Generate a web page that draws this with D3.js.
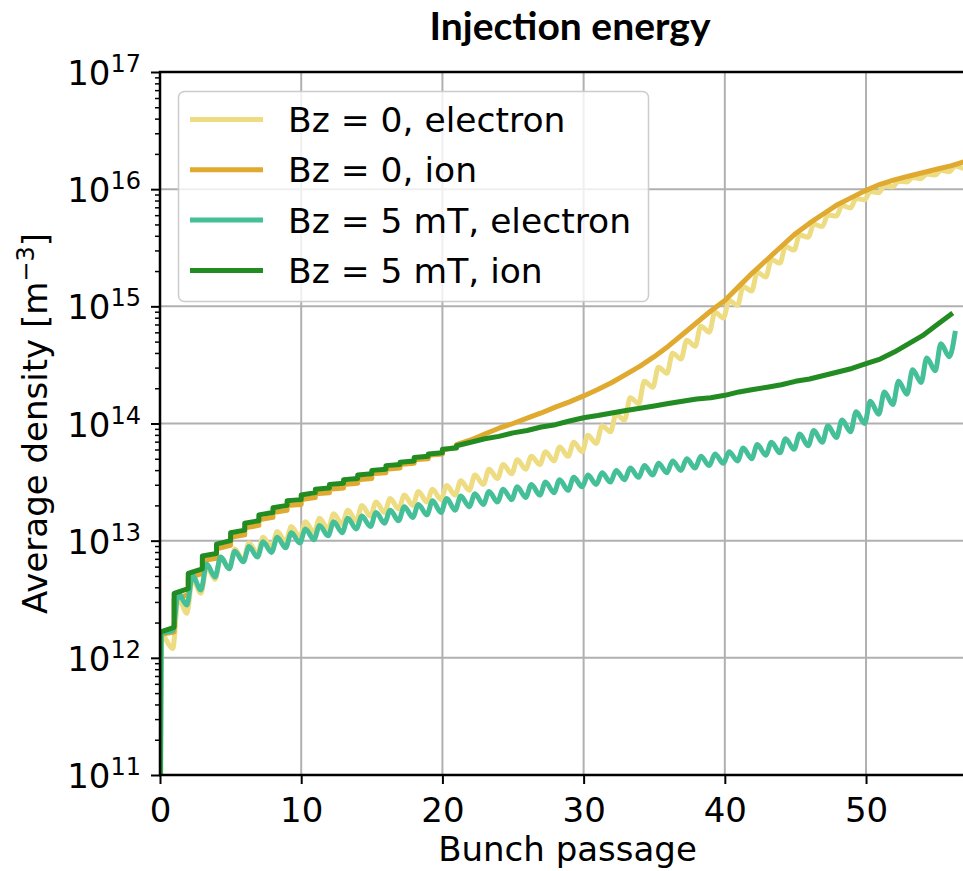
<!DOCTYPE html>
<html>
<head>
<meta charset="utf-8">
<script src="https://cdnjs.cloudflare.com/ajax/libs/d3/7.8.5/d3.min.js"></script>
<style>
  body { margin: 0; background: #fff; }
  text { font-family: "DejaVu Sans", sans-serif; fill: #000; }
</style>
</head>
<body>
<div id="main"></div>
<script>
// ---- data (densities in m^-3, one entry per bunch passage) ----
const xTicks = [0, 10, 20, 30, 40, 50];
const yTicks = [1e11, 1e12, 1e13, 1e14, 1e15, 1e16, 1e17];
const seriesNames = ["Bz = 0, electron", "Bz = 0, ion", "Bz = 5 mT, electron", "Bz = 5 mT, ion"];
const seriesColors = ["#eedc82", "#e0aa30", "#45bf98", "#228b22"];

// electron clouds: value just after each passage (peak) and just before the next one (dip)
const bz0ElectronPeak = [1.58e12, 3.31e12, 4.79e12, 6.03e12, 7.24e12, 8.51e12, 9.55e12, 1.07e13, 1.20e13, 1.32e13,
  1.45e13, 1.55e13, 1.70e13, 1.82e13, 2.00e13, 2.14e13, 2.29e13, 2.45e13, 2.63e13, 2.75e13,
  2.95e13, 3.24e13, 3.63e13, 4.07e13, 4.47e13, 4.90e13, 5.25e13, 5.75e13, 6.31e13, 6.92e13,
  7.94e13, 9.55e13, 1.20e14, 1.66e14, 2.29e14, 3.02e14, 3.98e14, 5.13e14, 6.76e14, 8.91e14,
  1.12e15, 1.48e15, 1.95e15, 2.51e15, 3.24e15, 4.07e15, 5.01e15, 6.03e15, 7.24e15, 8.32e15,
  9.55e15, 1.07e16, 1.17e16, 1.26e16, 1.35e16, 1.45e16, 1.58e16, 1.70e16];
const bz0ElectronDip = [1.20e12, 2.40e12, 3.55e12, 4.68e12, 5.75e12, 6.76e12, 7.76e12, 8.71e12, 9.77e12, 1.07e13,
  1.17e13, 1.26e13, 1.38e13, 1.48e13, 1.62e13, 1.74e13, 1.86e13, 2.00e13, 2.14e13, 2.24e13,
  2.45e13, 2.69e13, 3.02e13, 3.39e13, 3.72e13, 4.07e13, 4.47e13, 4.79e13, 5.25e13, 5.75e13,
  6.76e13, 8.51e13, 1.07e14, 1.48e14, 2.04e14, 2.69e14, 3.55e14, 4.57e14, 6.03e14, 7.94e14,
  1.02e15, 1.35e15, 1.78e15, 2.34e15, 3.02e15, 3.89e15, 4.79e15, 5.89e15, 6.92e15, 8.13e15,
  9.33e15, 1.05e16, 1.15e16, 1.23e16, 1.32e16, 1.41e16, 1.51e16];
const bz5ElectronPeak = [1.62e12, 3.55e12, 5.01e12, 6.31e12, 7.24e12, 8.13e12, 8.91e12, 9.77e12, 1.07e13, 1.17e13,
  1.26e13, 1.35e13, 1.45e13, 1.55e13, 1.62e13, 1.74e13, 1.82e13, 1.95e13, 2.04e13, 2.19e13,
  2.29e13, 2.40e13, 2.51e13, 2.63e13, 2.75e13, 2.88e13, 3.02e13, 3.16e13, 3.31e13, 3.47e13,
  3.63e13, 3.80e13, 3.98e13, 4.17e13, 4.37e13, 4.57e13, 4.79e13, 5.01e13, 5.25e13, 5.50e13,
  5.75e13, 6.17e13, 6.61e13, 6.92e13, 7.41e13, 8.13e13, 8.71e13, 9.55e13, 1.07e14, 1.26e14,
  1.55e14, 1.86e14, 2.29e14, 2.88e14, 3.63e14, 4.79e14, 5.89e14];
const bz5ElectronDip = [1.70e12, 2.82e12, 3.80e12, 4.90e12, 5.75e12, 6.61e12, 7.24e12, 7.94e12, 8.71e12, 9.55e12,
  1.02e13, 1.10e13, 1.17e13, 1.26e13, 1.32e13, 1.41e13, 1.48e13, 1.58e13, 1.66e13, 1.74e13,
  1.82e13, 1.95e13, 2.04e13, 2.14e13, 2.24e13, 2.34e13, 2.45e13, 2.57e13, 2.69e13, 2.88e13,
  3.02e13, 3.16e13, 3.31e13, 3.47e13, 3.63e13, 3.80e13, 3.98e13, 4.17e13, 4.37e13, 4.57e13,
  4.79e13, 5.01e13, 5.37e13, 5.62e13, 6.03e13, 6.46e13, 6.92e13, 7.59e13, 8.51e13, 1.00e14,
  1.20e14, 1.45e14, 1.78e14, 2.24e14, 2.82e14, 3.72e14];

// ions: value right after each passage, and (stepped part only) value just before the next passage
const bz0IonAfter = [1.58e12, 3.16e12, 4.79e12, 6.76e12, 8.51e12, 1.07e13, 1.29e13, 1.51e13, 1.74e13, 2.00e13,
  2.24e13, 2.51e13, 2.75e13, 3.02e13, 3.31e13, 3.72e13, 4.07e13, 4.47e13, 4.90e13, 5.37e13,
  5.89e13, 6.61e13, 7.24e13, 8.13e13, 9.12e13, 1.00e14, 1.11e14, 1.23e14, 1.38e14, 1.53e14,
  1.72e14, 1.95e14, 2.24e14, 2.63e14, 3.09e14, 3.72e14, 4.57e14, 5.75e14, 7.24e14, 9.12e14,
  1.12e15, 1.48e15, 1.95e15, 2.51e15, 3.24e15, 4.17e15, 5.13e15, 6.17e15, 7.41e15, 8.51e15,
  9.77e15, 1.10e16, 1.20e16, 1.29e16, 1.38e16, 1.48e16, 1.58e16, 1.72e16];
const bz0IonBefore = [1.66e12, 3.47e12, 5.25e12, 7.08e12, 9.12e12, 1.12e13, 1.35e13, 1.58e13, 1.82e13, 2.04e13,
  2.34e13, 2.57e13, 2.82e13, 3.09e13, 3.39e13, 3.80e13, 4.17e13, 4.57e13, 5.01e13, 5.50e13, 6.31e13];
const bz5IonAfter = [1.66e12, 3.55e12, 5.25e12, 7.41e12, 9.33e12, 1.17e13, 1.41e13, 1.66e13, 1.91e13, 2.19e13,
  2.45e13, 2.75e13, 3.02e13, 3.31e13, 3.63e13, 3.98e13, 4.37e13, 4.68e13, 5.13e13, 5.50e13,
  6.03e13, 6.46e13, 6.92e13, 7.41e13, 7.76e13, 8.32e13, 8.71e13, 9.33e13, 9.77e13, 1.05e14,
  1.12e14, 1.17e14, 1.23e14, 1.29e14, 1.35e14, 1.41e14, 1.48e14, 1.55e14, 1.62e14, 1.66e14,
  1.74e14, 1.86e14, 1.95e14, 2.04e14, 2.14e14, 2.29e14, 2.40e14, 2.57e14, 2.75e14, 2.95e14,
  3.24e14, 3.55e14, 4.07e14, 4.79e14, 5.62e14, 6.92e14, 8.51e14];
const bz5IonBefore = [1.82e12, 3.89e12, 5.75e12, 7.76e12, 1.00e13, 1.23e13, 1.48e13, 1.74e13, 2.00e13, 2.24e13,
  2.57e13, 2.82e13, 3.09e13, 3.39e13, 3.72e13, 4.07e13, 4.47e13, 4.79e13, 5.25e13, 5.62e13, 6.17e13];

// ---- layout ----
const width = 963, height = 871;
const plotLeft = 160, plotRight = 979, plotTop = 72, plotBottom = 775;
const lineW = 5;
const floorValue = 1e10;   // below the axis, so curves rise from the bottom edge at x = 0
const peakAt = 0.3, dipAt = 0.9;

const svg = d3.select("#main").append("svg")
  .attr("width", width)
  .attr("height", height);

const x = d3.scaleLinear().domain([0, 58]).range([plotLeft, plotRight]);
const y = d3.scaleLog().domain([1e11, 1e17]).range([plotBottom, plotTop]);

svg.append("defs").append("clipPath").attr("id", "plot-clip")
  .append("rect")
  .attr("x", plotLeft).attr("y", plotTop)
  .attr("width", plotRight - plotLeft).attr("height", plotBottom - plotTop);

// grid
const grid = svg.append("g").attr("stroke", "#b0b0b0").attr("stroke-width", 2);
grid.selectAll("line.gx").data(xTicks).join("line")
  .attr("x1", d => x(d)).attr("x2", d => x(d))
  .attr("y1", plotTop).attr("y2", plotBottom);
grid.selectAll("line.gy").data(yTicks).join("line")
  .attr("x1", plotLeft).attr("x2", plotRight)
  .attr("y1", d => y(d)).attr("y2", d => y(d));

// build point lists
function electronPoints(peaks, dips) {
  const pts = [[0, floorValue]];
  peaks.forEach((v, n) => {
    // first peak comes right at the first passage
    pts.push([n + (n === 0 ? 0.1 : peakAt), v]);
    if (n < dips.length) pts.push([n + dipAt, dips[n]]);
  });
  return pts;
}

function ionPoints(after, before) {
  const pts = [[0, floorValue]];
  after.forEach((v, n) => {
    pts.push([n, v]);
    if (n < before.length) pts.push([n + 1, before[n]]);
  });
  return pts;
}

const series = [
  { pts: electronPoints(bz0ElectronPeak, bz0ElectronDip), curve: d3.curveMonotoneX },
  { pts: ionPoints(bz0IonAfter, bz0IonBefore), curve: d3.curveLinear },
  { pts: electronPoints(bz5ElectronPeak, bz5ElectronDip), curve: d3.curveMonotoneX },
  { pts: ionPoints(bz5IonAfter, bz5IonBefore), curve: d3.curveLinear }
];

const plot = svg.append("g").attr("clip-path", "url(#plot-clip)");
series.forEach((s, i) => {
  const line = d3.line()
    .x(d => x(d[0]))
    .y(d => y(d[1]))
    .curve(s.curve);
  plot.append("path")
    .datum(s.pts)
    .attr("fill", "none")
    .attr("stroke", seriesColors[i])
    .attr("stroke-width", lineW)
    .attr("stroke-linejoin", "round")
    .attr("stroke-linecap", "square")
    .attr("d", line);
});

// axes
const xAxis = svg.append("g")
  .attr("transform", "translate(0," + plotBottom + ")")
  .call(d3.axisBottom(x).tickValues(xTicks).tickSize(9).tickPadding(14).tickFormat(d3.format("d")));
xAxis.select(".domain").remove();
xAxis.selectAll(".tick line").attr("stroke", "#000").attr("stroke-width", 2);
xAxis.selectAll(".tick text")
  .attr("font-family", "DejaVu Sans")
  .attr("font-size", 34)
  .attr("fill", "#000");

const minorTicks = y.ticks().filter(v => yTicks.indexOf(v) < 0 && v > 1e11 && v < 1e17);
const yMinor = svg.append("g")
  .attr("transform", "translate(" + plotLeft + ",0)")
  .call(d3.axisLeft(y).tickValues(minorTicks).tickSize(5).tickFormat(""));
yMinor.select(".domain").remove();
yMinor.selectAll(".tick line").attr("stroke", "#000").attr("stroke-width", 1.5);

const yAxis = svg.append("g")
  .attr("transform", "translate(" + plotLeft + ",0)")
  .call(d3.axisLeft(y).tickValues(yTicks).tickSize(9).tickFormat(""));
yAxis.select(".domain").remove();
yAxis.selectAll(".tick line").attr("stroke", "#000").attr("stroke-width", 2);
yAxis.selectAll(".tick").each(function(d) {
  const t = d3.select(this).append("text")
    .attr("x", -19)
    .attr("y", 12.5)
    .attr("text-anchor", "end")
    .attr("font-size", 34)
    .attr("fill", "#000");
  t.append("tspan").text("10");
  t.append("tspan").attr("font-size", 24).attr("dy", -13).text(Math.round(Math.log10(d)));
});

// spines
svg.append("path")
  .attr("d", "M" + plotRight + "," + plotTop + "H" + plotLeft + "V" + plotBottom + "H" + plotRight)
  .attr("fill", "none")
  .attr("stroke", "#000")
  .attr("stroke-width", 2.5);

// labels
svg.append("text")
  .attr("x", 570).attr("y", 40)
  .attr("text-anchor", "middle")
  .style("font-family", "Lato, 'Open Sans', sans-serif")
  .style("font-weight", "bold")
  .attr("font-size", 39)
  .text("Injection energy");

svg.append("text")
  .attr("x", (plotLeft + plotRight) / 2 - 2).attr("y", 861)
  .attr("text-anchor", "middle")
  .attr("font-size", 34)
  .text("Bunch passage");

const yLabel = svg.append("text")
  .attr("transform", "translate(47," + (plotTop + plotBottom) / 2 + ") rotate(-90)")
  .attr("text-anchor", "middle")
  .attr("font-size", 34);
yLabel.append("tspan").text("Average density [m");
yLabel.append("tspan").attr("font-size", 24).attr("dy", -13).text("\u22123");
yLabel.append("tspan").attr("dy", 13).text("]");

// legend
const legend = svg.append("g");
legend.append("rect")
  .attr("x", 178.5).attr("y", 91.5)
  .attr("width", 470).attr("height", 210)
  .attr("rx", 6)
  .attr("fill", "#fff").attr("fill-opacity", 0.8)
  .attr("stroke", "#cccccc").attr("stroke-width", 1.5);
seriesNames.forEach((name, i) => {
  const ly = 119.5 + i * 50.3;
  legend.append("line")
    .attr("x1", 190).attr("x2", 263)
    .attr("y1", ly).attr("y2", ly)
    .attr("stroke", seriesColors[i])
    .attr("stroke-width", 5);
  legend.append("text")
    .attr("x", 288).attr("y", ly + 12.5)
    .attr("font-size", 34.5)
    .text(name);
});
</script>
</body>
</html>
